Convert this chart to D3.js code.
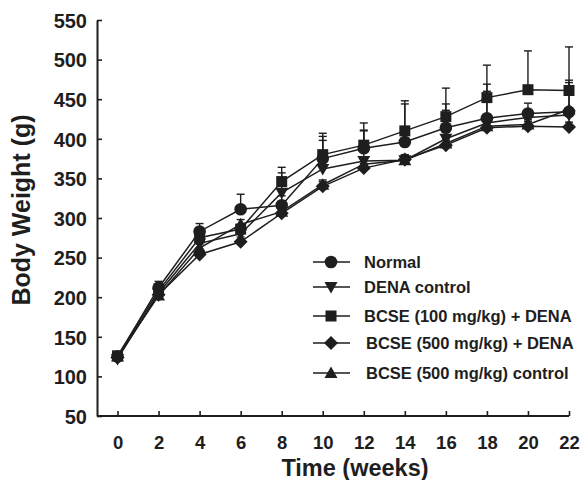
<!DOCTYPE html>
<html>
<head>
<meta charset="utf-8" />
<style>
  body { margin: 0; background: #fff; }
  svg { display: block; font-family: "Liberation Sans", Arial, sans-serif; font-weight: bold; }
</style>
</head>
<body>
<div id="chart"></div>
<script src="https://cdnjs.cloudflare.com/ajax/libs/d3/7.8.5/d3.min.js"></script>
<script>
var weeks = [0, 2, 4, 6, 8, 10, 12, 14, 16, 18, 20, 22];
var yTicks = [50, 100, 150, 200, 250, 300, 350, 400, 450, 500, 550];

var seriesNames = ["Normal", "DENA control", "BCSE (100 mg/kg) + DENA", "BCSE (500 mg/kg) + DENA", "BCSE (500 mg/kg) control"];
var seriesSymbols = ["circle", "triDown", "square", "diamond", "triUp"];

// mean body weight (g)
var normal    = [125, 212, 283, 311, 316, 375, 388, 396, 414, 426, 432, 434];
var denaCtrl  = [122, 205, 268, 280, 332, 362, 372, 373, 400, 420, 427, 430];
var bcse100   = [126, 208, 275, 286, 346, 380, 392, 410, 428, 452, 462, 461];
var bcse500   = [124, 203, 254, 270, 306, 340, 363, 374, 392, 414, 416, 415];
var bcseCtrl  = [125, 202, 262, 292, 308, 342, 368, 373, 394, 416, 418, 437];

// upper error bars (g)
var normalErr   = [3, 8, 10, 19, 12, 28, 23, 48, 30, 43, 13, 40];
var denaErr     = [3, 5, 5, 6, 25, 36, 38, 6, 36, 40, 8, 6];
var bcse100Err  = [3, 5, 6, 6, 18, 27, 28, 38, 36, 41, 49, 55];
var bcse500Err  = [3, 5, 5, 6, 6, 6, 6, 6, 6, 6, 6, 6];
var bcseCtrlErr = [3, 5, 5, 6, 6, 6, 6, 6, 6, 6, 6, 34];

var values = [normal, denaCtrl, bcse100, bcse500, bcseCtrl];
var errors = [normalErr, denaErr, bcse100Err, bcse500Err, bcseCtrlErr];

var width = 581, height = 480;
var ink = "#1e1e1e";

var svg = d3.select("#chart").append("svg")
  .attr("width", width)
  .attr("height", height);

var x = d3.scaleLinear().domain([-1, 22]).range([97, 569]);
var y = d3.scaleLinear().domain([50, 550]).range([416, 20]);

// marker shapes
function marker(sel, kind) {
  if (kind === "circle") {
    sel.append("circle").attr("r", 6.3).attr("fill", ink);
  } else if (kind === "square") {
    sel.append("rect").attr("x", -5.5).attr("y", -5.5).attr("width", 11).attr("height", 11).attr("fill", ink);
  } else if (kind === "diamond") {
    sel.append("path").attr("d", "M0,-7L7,0L0,7L-7,0Z").attr("fill", ink);
  } else if (kind === "triDown") {
    sel.append("path").attr("d", "M-6.5,-5L6.5,-5L0,6.5Z").attr("fill", ink);
  } else if (kind === "triUp") {
    sel.append("path").attr("d", "M-6.5,5L6.5,5L0,-6.5Z").attr("fill", ink);
  }
}

// axes
var yAxis = d3.axisLeft(y).tickValues(yTicks).tickSizeInner(-5).tickSizeOuter(0).tickPadding(10);
var xAxis = d3.axisBottom(x).tickValues(weeks).tickSizeInner(-5).tickSizeOuter(0).tickPadding(20);

var gy = svg.append("g").attr("transform", "translate(97,0)").call(yAxis);
var gx = svg.append("g").attr("transform", "translate(0,416)").call(xAxis);

[gy, gx].forEach(function(g) {
  g.select(".domain").attr("stroke", ink).attr("stroke-width", 2);
  g.selectAll(".tick line").attr("stroke", ink).attr("stroke-width", 1.6);
  g.selectAll(".tick text")
    .attr("fill", ink)
    .style("font-weight", "bold")
    .style("font-family", "'Liberation Sans', Arial, sans-serif");
});
gy.selectAll(".tick text").attr("dy", "0.36em").style("font-size", "20px");
gx.selectAll(".tick text").style("font-size", "18.5px");
gx.select(".domain").attr("d", "M97,0H569");

// axis titles
svg.append("text")
  .attr("x", 355).attr("y", 476)
  .attr("text-anchor", "middle")
  .attr("fill", ink)
  .style("font-size", "23.5px")
  .text("Time (weeks)");

svg.append("text")
  .attr("transform", "translate(30,210) rotate(-90)")
  .attr("text-anchor", "middle")
  .attr("fill", ink)
  .style("font-size", "25px")
  .text("Body Weight (g)");

var line = d3.line()
  .x(function(d, i) { return x(weeks[i]); })
  .y(function(d) { return y(d); });

// error bars
values.forEach(function(vals, s) {
  var g = svg.append("g").attr("stroke", ink).attr("stroke-width", 1.4);
  vals.forEach(function(v, i) {
    var top = y(v + errors[s][i]);
    g.append("line").attr("x1", x(weeks[i])).attr("x2", x(weeks[i]))
      .attr("y1", y(v)).attr("y2", top);
    g.append("line").attr("x1", x(weeks[i]) - 4).attr("x2", x(weeks[i]) + 4)
      .attr("y1", top).attr("y2", top);
  });
});

// lines
values.forEach(function(vals) {
  svg.append("path")
    .datum(vals)
    .attr("d", line)
    .attr("fill", "none")
    .attr("stroke", ink)
    .attr("stroke-width", 1.5);
});

// markers
values.forEach(function(vals, s) {
  vals.forEach(function(v, i) {
    var g = svg.append("g").attr("transform", "translate(" + x(weeks[i]) + "," + y(v) + ")");
    marker(g, seriesSymbols[s]);
  });
});

// legend
var legendY = [262, 287, 316, 343, 373];
var legendTextX = [364, 364, 364, 366, 366];
seriesNames.forEach(function(name, s) {
  var g = svg.append("g").attr("transform", "translate(0," + legendY[s] + ")");
  g.append("line").attr("x1", 313).attr("x2", 350).attr("y1", 0).attr("y2", 0)
    .attr("stroke", ink).attr("stroke-width", 1.5);
  var m = g.append("g").attr("transform", "translate(331,0)");
  marker(m, seriesSymbols[s]);
  g.append("text")
    .attr("x", legendTextX[s]).attr("y", 0).attr("dy", "0.36em")
    .attr("fill", ink)
    .style("font-size", "16.5px")
    .text(name);
});
</script>
</body>
</html>
